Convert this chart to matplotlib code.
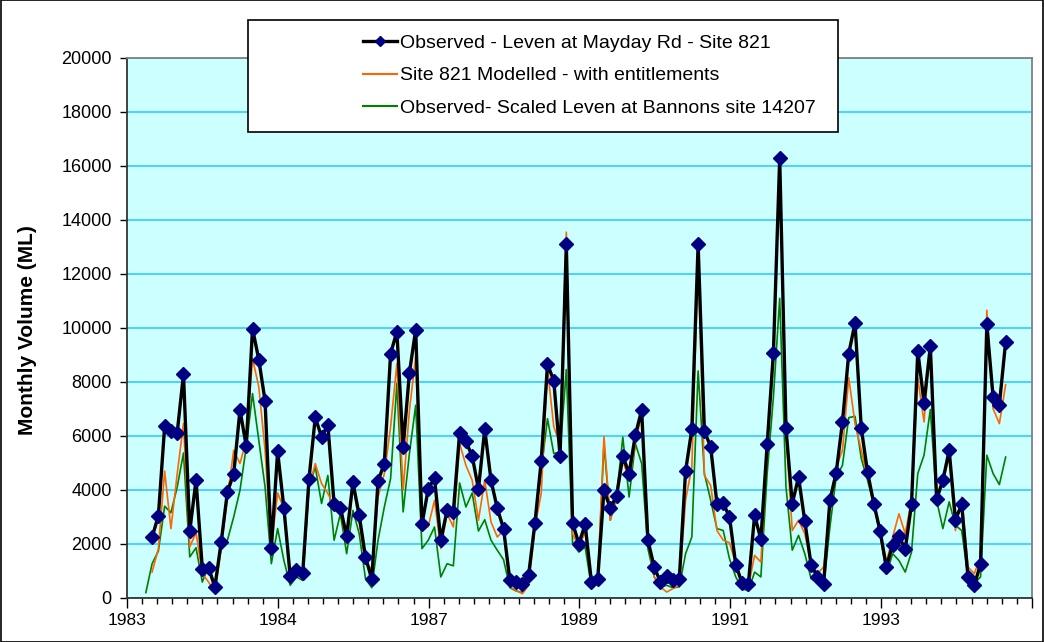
import matplotlib
matplotlib.use("Agg")
import matplotlib.pyplot as plt
import numpy as np
from matplotlib.patches import Rectangle
from matplotlib.lines import Line2D
from matplotlib.ticker import FixedLocator, MultipleLocator

plt.rcParams['font.family'] = ['Liberation Sans', 'DejaVu Sans']

# ---- data (monthly volumes, ML) ----
# month index 0 = Jan 1983
observed_start = 4     # May 1983
modelled_start = 4
scaled_start = 3       # Apr 1983

observed = [2250, 3050, 6360, 6190, 6125, 8290, 2470, 4370, 1090, 1110, 410, 2060,
            3930, 4590, 6965, 5630, 9980, 8830, 7300, 1850, 5430, 3330, 815, 1050,
            925, 4420, 6690, 5965, 6410, 3495, 3350, 2285, 4285, 3060, 1520, 690,
            4335, 4980, 9050, 9870, 5580, 8340, 9940, 2730, 4050, 4430, 2140, 3250,
            3190, 6125, 5800, 5260, 4040, 6250, 4360, 3320, 2570, 655, 590, 530,
            865, 2780, 5075, 8660, 8050, 5260, 13100, 2780, 2010, 2730, 590, 700,
            3990, 3330, 3780, 5260, 4610, 6030, 6965, 2140, 1150, 590, 830, 655,
            700, 4700, 6250, 13100, 6190, 5595, 3495, 3510, 3000, 1235, 555, 505,
            3060, 2175, 5690, 9090, 16300, 6285, 3495, 4480, 2840, 1235, 780, 520,
            3620, 4640, 6520, 9050, 10190, 6285, 4655, 3495, 2470, 1150, 1975, 2285,
            1800, 3470, 9160, 7225, 9325, 3655, 4360, 5470, 2900, 3470, 780, 470,
            1250, 10140, 7450, 7160, 9485]

modelled = [960, 1830, 4700, 2570, 4600, 6460, 1890, 2420, 900, 590, 200, 1830,
            3740, 5470, 4980, 5840, 8870, 7820, 5470, 1890, 3890, 3310, 900, 840,
            960, 4110, 4980, 4240, 3870, 3400, 3300, 2000, 4200, 2800, 1270, 1090,
            3740, 4600, 6340, 8680, 3990, 6950, 8930, 2500, 2650, 3620, 1830, 3120,
            2630, 5720, 4915, 4360, 2880, 4360, 2815, 2260, 2500, 410, 280, 160,
            470, 2630, 3870, 8500, 6340, 5720, 13550, 2380, 1890, 2445, 530, 650,
            5990, 2880, 3620, 5100, 4360, 5720, 6830, 2140, 780, 410, 220, 350,
            470, 3620, 4850, 12600, 4540, 4170, 2500, 2140, 2050, 1270, 590, 410,
            1580, 1330, 5590, 9300, 16200, 6090, 2500, 2880, 2380, 1270, 900, 1150,
            3370, 4850, 5470, 8160, 6460, 5470, 4480, 3490, 2380, 1330, 2260, 3120,
            2380, 3620, 8130, 6520, 9550, 3740, 4360, 5220, 2500, 3740, 1150, 900,
            1520, 10660, 7010, 6460, 7900]

scaled = [200, 1270, 1740, 3400, 3160, 4110, 5370, 1520, 1860, 590, 1200, 470,
          1830, 2140, 3000, 3990, 5590, 7570, 5840, 4110, 1270, 2570, 1390, 470,
          780, 650, 4110, 4850, 3500, 4540, 2140, 3120, 1640, 3245, 2380, 715,
          380, 2140, 3370, 4420, 7940, 3190, 5350, 7140, 1830, 2140, 2630, 780,
          1270, 1190, 4260, 3370, 3890, 2480, 2900, 2140, 1770, 1420, 380, 260,
          200, 650, 2815, 4730, 6640, 5350, 5410, 8460, 2010, 1700, 1890, 410,
          590, 5720, 2880, 3740, 5960, 3740, 5720, 4980, 1830, 780, 410, 470,
          380, 410, 1640, 2260, 8410, 4610, 3620, 2570, 2500, 1450, 780, 350,
          260, 960, 780, 4610, 7450, 11100, 4110, 1770, 2320, 1640, 715, 590,
          410, 2630, 4480, 4915, 6680, 6730, 5160, 4360, 3450, 2380, 900, 1640,
          1390, 960, 1700, 4610, 5290, 6980, 3620, 2570, 3560, 2690, 2500, 780,
          530, 780, 5290, 4610, 4200, 5220]

tick_labels = ['1983', '1984', '1987', '1989', '1991', '1993', '']
labels = ['Observed - Leven at Mayday Rd - Site 821',
          'Site 821 Modelled - with entitlements',
          'Observed- Scaled Leven at Bannons site 14207']

x_obs = observed_start + np.arange(len(observed))
x_mod = modelled_start + np.arange(len(modelled))
x_sc = scaled_start + np.arange(len(scaled))

W, H = 1044, 642
fig = plt.figure(figsize=(W / 100, H / 100), dpi=100)
fig.patch.set_facecolor('white')
ax = fig.add_axes([127 / W, 1 - 598 / H, (1032 - 127) / W, (598 - 58) / H])
ax.set_facecolor('#CCFFFF')

ax.plot(x_sc, scaled, color='#008000', lw=1.2, zorder=3)
ax.plot(x_mod, modelled, color='#FF6600', lw=1.2, zorder=4)
ax.plot(x_obs, observed, color='black', lw=2.4, marker='D', markersize=7,
        markerfacecolor='#000080', markeredgecolor='#000080', zorder=5)

ax.set_xlim(0, 144.2)
ax.set_ylim(0, 20000)
ax.yaxis.set_major_locator(MultipleLocator(2000))
ax.grid(axis='y', color='#33CCFF', lw=1.2, zorder=1)
ax.set_axisbelow(True)

major = np.arange(len(tick_labels)) * 24.03
ax.xaxis.set_major_locator(FixedLocator(major))
ax.set_xticklabels(tick_labels)
ax.xaxis.set_minor_locator(FixedLocator(np.arange(0, 145, 24.03 / 10)))
ax.tick_params(axis='x', which='major', direction='out', length=7, width=1,
               labelsize=12.5, pad=4, colors='black')
ax.tick_params(axis='x', which='minor', direction='out', length=4, width=1)
ax.tick_params(axis='y', direction='out', length=5, width=1, labelsize=13, pad=6)

for s in ['left', 'bottom']:
    ax.spines[s].set_color('#333333')
    ax.spines[s].set_linewidth(1.3)
for s in ['top', 'right']:
    ax.spines[s].set_color('#808080')
    ax.spines[s].set_linewidth(1.3)

fig.text(28 / W, 1 - 330 / H, 'Monthly Volume (ML)', rotation=90, ha='center',
         va='center', fontsize=15, fontweight='bold')

# legend box
fig.patches.append(Rectangle((248 / W, 1 - 132 / H), (838 - 248) / W, (132 - 20) / H,
                             transform=fig.transFigure, facecolor='white',
                             edgecolor='black', lw=1.2, zorder=4))
handles = [Line2D([], [], color='black', lw=2.4, marker='D', markersize=5,
                  markerfacecolor='#000080', markeredgecolor='#000080'),
           Line2D([], [], color='#FF6600', lw=1.5),
           Line2D([], [], color='#008000', lw=1.5)]
leg = fig.legend(handles, labels, loc='upper left',
                 bbox_to_anchor=(363 / W, 1 - 34 / H), frameon=False,
                 fontsize=14, handlelength=1.75, handletextpad=0.15,
                 labelspacing=0.78, borderpad=0, borderaxespad=0)
leg.set_zorder(6)

# chart border
fig.patches.append(Rectangle((0.0005, 0.0005), 0.999, 0.999, transform=fig.transFigure,
                             facecolor='none', edgecolor='black', lw=1.2, zorder=3))

fig.savefig('out.png', dpi=100)
